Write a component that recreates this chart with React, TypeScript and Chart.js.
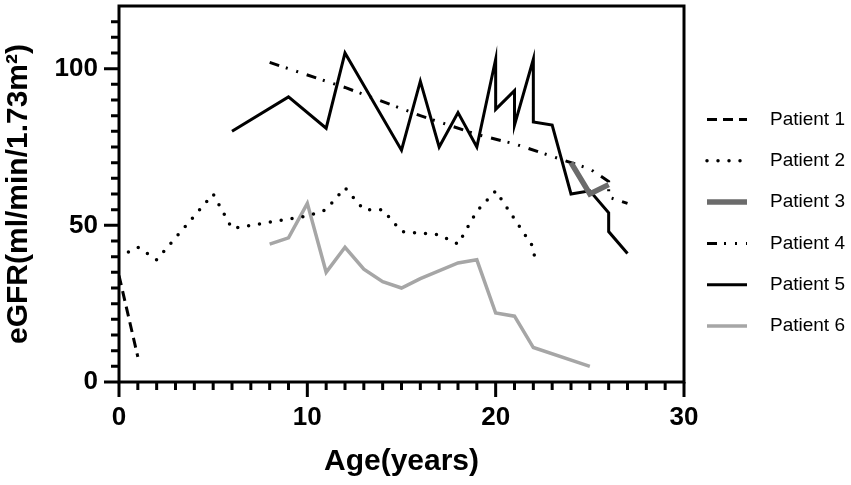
import { useEffect, useRef } from "react";
import { Chart, registerables } from "chart.js";

Chart.register(...registerables);

// eGFR readings per patient (age in years, eGFR in ml/min/1.73m²)
const patient1Age = [0, 1];
const patient1Egfr = [34, 8];

const patient2Age = [0.5, 1, 2, 5, 6, 10, 11, 12, 13, 14, 15, 16, 17, 18, 19, 20, 22, 22.1];
const patient2Egfr = [41.5, 43, 39, 60, 49, 53, 55, 62, 55, 55, 48, 47.5, 47, 44, 54.5, 61, 43, 38];

const patient3Age = [24, 25, 26];
const patient3Egfr = [70, 60, 63];

const patient4Age = [8, 12, 16, 19, 21, 23, 25, 26, 26, 27];
const patient4Egfr = [102, 94, 85, 79, 76, 72, 68, 64, 59, 57];

const patient5Age = [6, 9, 11, 12, 15, 16, 17, 18, 19, 20, 20, 21, 21, 22, 22, 23, 24, 25, 26, 26, 27];
const patient5Egfr = [80, 91, 81, 105, 74, 96, 75, 86, 75, 103, 87, 93, 82, 103, 83, 82, 60, 61, 54, 48, 41];

const patient6Age = [8, 9, 10, 11, 12, 13, 14, 15, 16, 18, 19, 20, 21, 22, 25];
const patient6Egfr = [44, 46, 57, 35, 43, 36, 32, 30, 33, 38, 39, 22, 21, 11, 5];

const xTickValues = [0, 10, 20, 30];
const yTickValues = [0, 50, 100];

const FONT = "'Liberation Sans', Arial, Helvetica, sans-serif";

const toPoints = (ages: number[], values: number[]) =>
  ages.map((a, i) => ({ x: a, y: values[i] }));

const series = [
  { label: "Patient 1", ages: patient1Age, values: patient1Egfr, color: "#000000", width: 3, dash: [10, 6], cap: "butt" },
  { label: "Patient 2", ages: patient2Age, values: patient2Egfr, color: "#000000", width: 3.5, dash: [0, 11], cap: "round" },
  { label: "Patient 3", ages: patient3Age, values: patient3Egfr, color: "#6b6b6b", width: 5.5, dash: [], cap: "butt" },
  { label: "Patient 4", ages: patient4Age, values: patient4Egfr, color: "#000000", width: 3, dash: [10, 7, 2, 9, 2, 9], cap: "butt" },
  { label: "Patient 5", ages: patient5Age, values: patient5Egfr, color: "#000000", width: 3, dash: [], cap: "butt" },
  { label: "Patient 6", ages: patient6Age, values: patient6Egfr, color: "#a6a6a6", width: 3.5, dash: [], cap: "butt" },
];

// frame + major/minor tick marks, drawn from the chart's own scales
const axesPlugin = {
  id: "boxAxes",
  afterDatasetsDraw(chart: any) {
    const { ctx, chartArea: a, scales } = chart;
    const x = scales.x;
    const y = scales.y;
    ctx.save();
    ctx.strokeStyle = "#000";
    ctx.lineWidth = 3;
    ctx.lineJoin = "miter";
    ctx.setLineDash([]);
    ctx.strokeRect(a.left, a.top, a.right - a.left, a.bottom - a.top);
    ctx.beginPath();
    for (let v = 0; v <= 115; v += 5) {
      const py = y.getPixelForValue(v);
      const len = v % 50 === 0 ? 15 : 8;
      ctx.moveTo(a.left - len, py);
      ctx.lineTo(a.left, py);
    }
    for (let v = 0; v <= 30; v += 1) {
      const px = x.getPixelForValue(v);
      const len = v % 10 === 0 ? 15 : 8;
      ctx.moveTo(px, a.bottom);
      ctx.lineTo(px, a.bottom + len);
    }
    ctx.stroke();
    ctx.restore();
  },
};

// legend on the right with the line styles
const legendPlugin = {
  id: "sideLegend",
  afterDraw(chart: any) {
    const { ctx } = chart;
    ctx.save();
    chart.data.datasets.forEach((ds: any, i: number) => {
      const cy = 119.5 + i * 41.3;
      ctx.beginPath();
      ctx.strokeStyle = ds.borderColor;
      ctx.lineWidth = ds.borderWidth;
      ctx.setLineDash(ds.borderDash || []);
      ctx.lineCap = ds.borderCapStyle || "butt";
      ctx.moveTo(707, cy);
      ctx.lineTo(747, cy);
      ctx.stroke();
      ctx.setLineDash([]);
      ctx.fillStyle = "#000";
      ctx.font = `19px ${FONT}`;
      ctx.textAlign = "left";
      ctx.textBaseline = "middle";
      ctx.fillText(ds.label, 770, cy);
    });
    ctx.restore();
  },
};

export default function App() {
  const canvasRef = useRef<HTMLCanvasElement>(null);
  const chartRef = useRef<Chart | null>(null);

  useEffect(() => {
    document.body.style.margin = "0";
    if (!canvasRef.current) return;
    const ctx = canvasRef.current.getContext("2d");
    if (!ctx) return;
    if (chartRef.current) chartRef.current.destroy();

    chartRef.current = new Chart(ctx, {
      type: "line",
      data: {
        datasets: series.map((s) => ({
          label: s.label,
          data: toPoints(s.ages, s.values),
          borderColor: s.color,
          backgroundColor: s.color,
          borderWidth: s.width,
          borderDash: s.dash,
          borderCapStyle: s.cap as CanvasLineCap,
          borderJoinStyle: "miter" as CanvasLineJoin,
          pointRadius: 0,
          pointHoverRadius: 0,
          fill: false,
          tension: 0,
        })),
      },
      options: {
        responsive: true,
        maintainAspectRatio: false,
        animation: false,
        events: [],
        layout: { padding: { top: 6, right: 167, left: 0, bottom: 0 } },
        plugins: {
          legend: { display: false },
          tooltip: { enabled: false },
        },
        scales: {
          x: {
            type: "linear",
            min: 0,
            max: 30,
            afterBuildTicks: (scale: any) => {
              scale.ticks = xTickValues.map((v) => ({ value: v }));
            },
            afterFit: (scale: any) => {
              scale.height = 103;
            },
            ticks: {
              autoSkip: false,
              maxRotation: 0,
              padding: 5,
              color: "#000",
              font: { family: FONT, size: 26, weight: "bold" },
            },
            grid: {
              display: true,
              drawOnChartArea: false,
              drawTicks: true,
              tickLength: 15,
              color: "transparent",
              tickColor: "transparent",
            },
            border: { display: false },
            title: {
              display: true,
              text: "Age(years)",
              color: "#000",
              font: { family: FONT, size: 30, weight: "bold" },
              padding: { top: 0, bottom: 5 },
            },
          },
          y: {
            type: "linear",
            min: 0,
            max: 120,
            afterBuildTicks: (scale: any) => {
              scale.ticks = yTickValues.map((v) => ({ value: v }));
            },
            afterFit: (scale: any) => {
              scale.width = 119;
              scale.paddingTop = 0;
              scale.paddingBottom = 0;
            },
            ticks: {
              autoSkip: false,
              padding: 6,
              color: "#000",
              font: { family: FONT, size: 26, weight: "bold" },
            },
            grid: {
              display: true,
              drawOnChartArea: false,
              drawTicks: true,
              tickLength: 15,
              color: "transparent",
              tickColor: "transparent",
            },
            border: { display: false },
            title: {
              display: true,
              text: "eGFR(ml/min/1.73m²)",
              color: "#000",
              font: { family: FONT, size: 30, weight: "bold" },
              padding: { top: 1, bottom: 0 },
            },
          },
        },
      },
      plugins: [axesPlugin, legendPlugin],
    });

    return () => {
      if (chartRef.current) {
        chartRef.current.destroy();
        chartRef.current = null;
      }
    };
  }, []);

  return (
    <div style={{ position: "relative", width: 851, height: 485 }}>
      <canvas ref={canvasRef}></canvas>
    </div>
  );
}
